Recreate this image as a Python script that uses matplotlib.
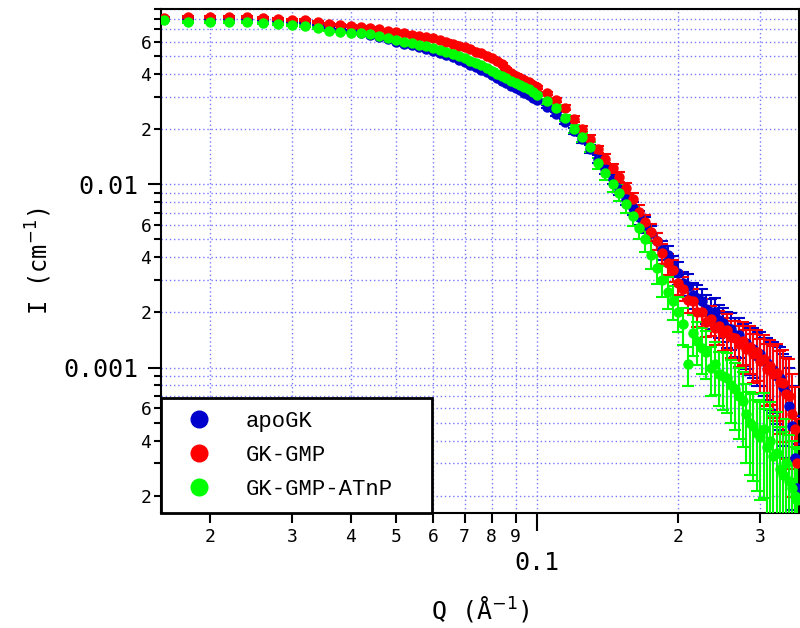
import numpy as np
import matplotlib
matplotlib.use("Agg")
import matplotlib.pyplot as plt
from matplotlib import ticker
from matplotlib.lines import Line2D

# ---------------------------------------------------------------------------
# Data
# ---------------------------------------------------------------------------

q = [0.016, 0.018, 0.020, 0.022, 0.024, 0.026, 0.028, 0.030, 0.032, 0.034,
     0.036, 0.038, 0.040, 0.042, 0.044, 0.046, 0.048, 0.050, 0.052, 0.054,
     0.056, 0.058, 0.060, 0.062, 0.064, 0.066, 0.068, 0.070, 0.072, 0.074,
     0.076, 0.078, 0.080, 0.082, 0.084, 0.086, 0.088, 0.090, 0.092, 0.094,
     0.096, 0.098, 0.100,
     0.105, 0.110, 0.115, 0.120, 0.125, 0.130, 0.135, 0.140, 0.145, 0.150,
     0.155, 0.160, 0.165, 0.170, 0.175, 0.180, 0.185, 0.190, 0.195, 0.200,
     0.205, 0.210, 0.215, 0.220, 0.225, 0.230, 0.235, 0.240, 0.245, 0.250,
     0.255, 0.260, 0.265, 0.270, 0.275, 0.280, 0.285, 0.290, 0.295, 0.300,
     0.305, 0.310, 0.315, 0.320, 0.325, 0.330, 0.335, 0.340, 0.345, 0.350,
     0.355, 0.360]

i_apo = [0.0800, 0.0805, 0.0802, 0.0798, 0.0795, 0.0788, 0.0778, 0.0768, 0.0755, 0.0738,
         0.0720, 0.0700, 0.0684, 0.0670, 0.0655, 0.0638, 0.0620, 0.0600, 0.0585, 0.0572,
         0.0560, 0.0546, 0.0532, 0.0518, 0.0505, 0.0492, 0.0478, 0.0464, 0.0450, 0.0436,
         0.0422, 0.0408, 0.0394, 0.0380, 0.0368, 0.0356, 0.0345, 0.0335, 0.0325, 0.0316,
         0.0307, 0.0297, 0.0288,
         0.0265, 0.0243, 0.0220, 0.0196, 0.0176, 0.0156, 0.0137, 0.0121, 0.0107, 0.0094,
         0.0083, 0.0074, 0.0066, 0.0060, 0.0054, 0.0049, 0.0044, 0.0041, 0.0036, 0.0033,
         0.0029, 0.0028, 0.0025, 0.0024, 0.0023, 0.0021, 0.0020, 0.0020, 0.00182, 0.00175,
         0.00165, 0.00162, 0.00150, 0.00150, 0.00138, 0.00137, 0.00128, 0.00126, 0.00116, 0.00118,
         0.00108, 0.00106, 0.00098, 0.00097, 0.00090, 0.00088, 0.00078, 0.00073, 0.00062, 0.00048,
         0.00032, 0.00022]

i_gmp = [0.0812, 0.0815, 0.0818, 0.0815, 0.0818, 0.0805, 0.0800, 0.0790, 0.0785, 0.0770,
         0.0748, 0.0740, 0.0730, 0.0721, 0.0712, 0.0700, 0.0690, 0.0677, 0.0668, 0.0655,
         0.0645, 0.0635, 0.0625, 0.0612, 0.0600, 0.0585, 0.0570, 0.0558, 0.0545, 0.0530,
         0.0518, 0.0502, 0.0488, 0.0470, 0.0452, 0.0425, 0.0405, 0.0392, 0.0382, 0.0372,
         0.0362, 0.0350, 0.0338,
         0.0314, 0.0290, 0.0262, 0.0228, 0.0200, 0.0177, 0.0155, 0.0138, 0.0122, 0.0110,
         0.0095, 0.0083, 0.0071, 0.0062, 0.0055, 0.0049, 0.0042, 0.0037, 0.0034, 0.0029,
         0.0027, 0.00235, 0.0023, 0.0020, 0.0020, 0.00178, 0.00183, 0.00165, 0.00168, 0.00155,
         0.00160, 0.00146, 0.00145, 0.00135, 0.00140, 0.00126, 0.00130, 0.00118, 0.00122, 0.00108,
         0.00112, 0.00098, 0.00102, 0.00092, 0.00093, 0.00083, 0.00082, 0.00072, 0.00070, 0.00056,
         0.00046, 0.00030]

i_atnp = [0.0785, 0.0770, 0.0768, 0.0765, 0.0765, 0.0760, 0.0750, 0.0740, 0.0728, 0.0710,
          0.0690, 0.0680, 0.0672, 0.0668, 0.0660, 0.0648, 0.0630, 0.0612, 0.0600, 0.0590,
          0.0578, 0.0565, 0.0552, 0.0540, 0.0528, 0.0515, 0.0500, 0.0486, 0.0472, 0.0458,
          0.0445, 0.0430, 0.0415, 0.0400, 0.0388, 0.0378, 0.0366, 0.0356, 0.0346, 0.0338,
          0.0332, 0.0320, 0.0308,
          0.0284, 0.0262, 0.0230, 0.0200, 0.0180, 0.0160, 0.0130, 0.0115, 0.0100, 0.0090,
          0.0078, 0.0067, 0.0058, 0.0050, 0.0041, 0.0035, 0.0030, 0.0026, 0.0023, 0.0020,
          0.00172, 0.00104, 0.00155, 0.00140, 0.00128, 0.00122, 0.00100, 0.00104, 0.00092, 0.00090,
          0.00088, 0.00080, 0.00076, 0.00070, 0.00066, 0.00056, 0.00050, 0.00048, 0.00044, 0.00042,
          0.00046, 0.00037, 0.00040, 0.00033, 0.00034, 0.00028, 0.00026, 0.00030, 0.00024, 0.00022,
          0.00020, 0.00019]

# relative uncertainties
rel_apo = [0.01] * 23 + [0.015] * 20 + [
    0.02, 0.025, 0.03, 0.035, 0.04, 0.045, 0.05, 0.055, 0.06, 0.065,
    0.07, 0.08, 0.09, 0.10, 0.10, 0.11, 0.12, 0.13, 0.13, 0.14,
    0.15, 0.15, 0.16, 0.17, 0.17, 0.18, 0.19, 0.20, 0.20, 0.21,
    0.22, 0.23, 0.24, 0.25, 0.26, 0.28, 0.29, 0.30, 0.32, 0.33,
    0.35, 0.37, 0.40, 0.42, 0.45, 0.48, 0.52, 0.56, 0.60, 0.65, 0.70, 0.75]

rel_gmp = [0.01] * 23 + [0.015] * 20 + [
    0.02, 0.025, 0.03, 0.035, 0.04, 0.045, 0.05, 0.055, 0.06, 0.065,
    0.07, 0.08, 0.09, 0.10, 0.11, 0.11, 0.12, 0.13, 0.14, 0.14,
    0.15, 0.16, 0.16, 0.17, 0.18, 0.18, 0.19, 0.20, 0.21, 0.21,
    0.22, 0.23, 0.24, 0.25, 0.26, 0.27, 0.29, 0.30, 0.31, 0.33,
    0.35, 0.37, 0.39, 0.42, 0.45, 0.48, 0.52, 0.56, 0.60, 0.65, 0.70, 0.75]

rel_atnp = [0.01] * 23 + [0.02] * 20 + [
    0.03, 0.035, 0.04, 0.05, 0.055, 0.06, 0.07, 0.08, 0.09, 0.10,
    0.11, 0.12, 0.13, 0.15, 0.16, 0.18, 0.19, 0.20, 0.21, 0.22,
    0.23, 0.24, 0.25, 0.26, 0.28, 0.29, 0.30, 0.32, 0.33, 0.35,
    0.36, 0.38, 0.40, 0.42, 0.44, 0.46, 0.48, 0.50, 0.52, 0.55,
    0.58, 0.60, 0.62, 0.65, 0.68, 0.70, 0.72, 0.75, 0.78, 0.80, 0.85, 0.90]

labels = ["apoGK", "GK-GMP", "GK-GMP-ATnP"]
colors = ["#0000cc", "#ff0000", "#00ff00"]

# ---------------------------------------------------------------------------
# Figure
# ---------------------------------------------------------------------------

plt.rcParams["font.family"] = ["DejaVu Sans Mono", "DejaVu Sans"]

W, H = 800, 628
fig = plt.figure(figsize=(W / 100, H / 100), dpi=100)
L, R, T, B = 161, 799, 9, 513
ax = fig.add_axes([L / W, (H - B) / H, (R - L) / W, (B - T) / H])

series = [(i_apo, rel_apo), (i_gmp, rel_gmp), (i_atnp, rel_atnp)]
for (vals, rel), c in zip(series, colors):
    vals = np.array(vals)
    err = vals * np.array(rel)
    ax.errorbar(q, vals, yerr=err, fmt="o", ms=6.5, color=c, mec=c, ecolor=c,
                elinewidth=1.5, capsize=4.5, capthick=1.5, zorder=3)

ax.set_xscale("log")
ax.set_yscale("log")
ax.set_xlim(0.01573, 0.3628)
ax.set_ylim(1.61e-4, 0.0904)


def lead_digit(v):
    return int(round(v / 10 ** np.floor(np.log10(v) + 1e-9)))


ax.xaxis.set_major_locator(ticker.LogLocator(base=10))
ax.xaxis.set_minor_locator(ticker.LogLocator(base=10, subs=range(2, 10)))
ax.yaxis.set_major_locator(ticker.LogLocator(base=10))
ax.yaxis.set_minor_locator(ticker.LogLocator(base=10, subs=range(2, 10)))
ax.xaxis.set_major_formatter(ticker.FuncFormatter(lambda v, _: f"{v:g}"))
ax.yaxis.set_major_formatter(ticker.FuncFormatter(lambda v, _: f"{v:g}"))
ax.xaxis.set_minor_formatter(ticker.FuncFormatter(lambda v, _: f"{lead_digit(v)}"))
ax.yaxis.set_minor_formatter(ticker.FuncFormatter(
    lambda v, _: f"{lead_digit(v)}" if lead_digit(v) in (2, 4, 6) else ""))

ax.grid(True, which="both", color="#7878ff", linestyle=(0, (1, 2)), linewidth=1.0)
ax.set_axisbelow(True)

for s in ax.spines.values():
    s.set_linewidth(1.5)

ax.tick_params(axis="x", which="major", length=13, width=1.5, labelsize=18, pad=14)
ax.tick_params(axis="x", which="minor", length=7, width=1.5, labelsize=13, pad=4)
ax.tick_params(axis="y", which="major", length=9.5, width=1.5, labelsize=18, pad=7)
ax.tick_params(axis="y", which="minor", length=5, width=1.5, labelsize=13, pad=2)

ax.set_xlabel("Q (Å$^{-1}$)", fontsize=18)
ax.set_ylabel("I (cm$^{-1}$)", fontsize=17)
ax.xaxis.set_label_coords(0.5, -0.16)
ax.yaxis.set_label_coords(-0.167, 0.5)

handles = [Line2D([], [], ls="none", marker="o", ms=12, color=c) for c in colors]
leg = ax.legend(handles, labels, loc="lower left",
                bbox_to_anchor=(0, 0, 271 / (R - L), 113 / (B - T)), mode="expand",
                borderaxespad=0, fancybox=False, edgecolor="black", framealpha=1,
                prop={"family": "Liberation Mono", "size": 16},
                handlelength=2.2, handletextpad=1.0, borderpad=0.6, labelspacing=0.58)
leg.get_frame().set_linewidth(2)
leg.set_zorder(5)

fig.savefig("out.png", dpi=100)
